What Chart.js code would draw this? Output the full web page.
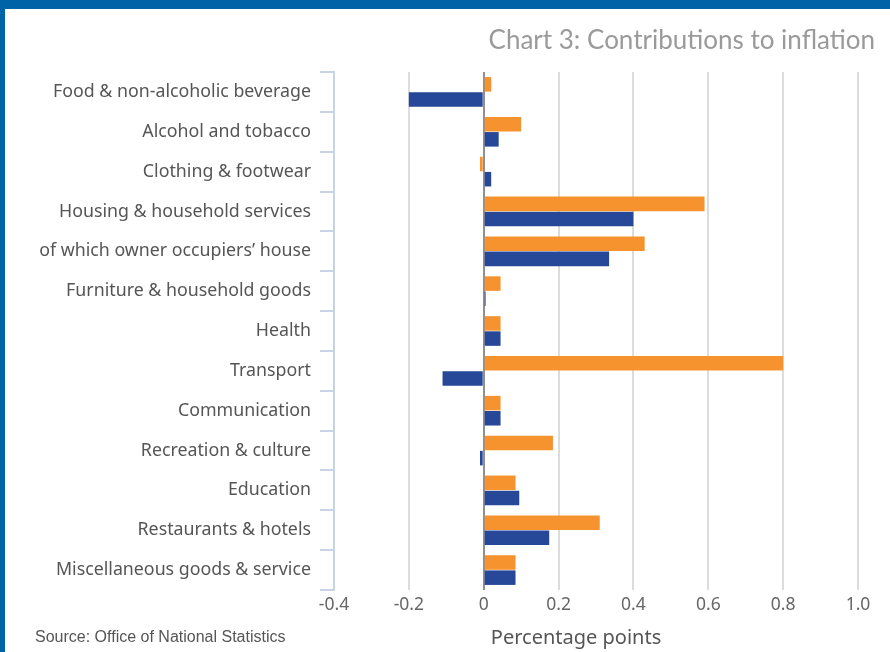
<!DOCTYPE html>
<html>
<head>
<meta charset="utf-8">
<script src="https://cdn.jsdelivr.net/npm/chart.js@4.4.0/dist/chart.umd.min.js"></script>
<style>
  html, body { margin: 0; padding: 0; background: #fff; }
  #wrap { position: relative; width: 890px; height: 652px; overflow: hidden; }
  #frameTop { position: absolute; left: 0; top: 0; width: 890px; height: 9px; background: #0062a7; }
  #frameLeft { position: absolute; left: 0; top: 0; width: 5px; height: 652px; background: #0062a7; }
</style>
</head>
<body>
<div id="wrap">
  <canvas id="inflationChart" width="890" height="652"></canvas>
  <div id="frameTop"></div>
  <div id="frameLeft"></div>
</div>
<script>
// --- Data ---
const categories = [
    "Food & non-alcoholic beverage",
    "Alcohol and tobacco",
    "Clothing & footwear",
    "Housing & household services",
    "of which owner occupiers\u2019 house",
    "Furniture & household goods",
    "Health",
    "Transport",
    "Communication",
    "Recreation & culture",
    "Education",
    "Restaurants & hotels",
    "Miscellaneous goods & service"
];
const orangeSeries = [0.02, 0.10, -0.01, 0.59, 0.43, 0.045, 0.045, 0.80, 0.045, 0.185, 0.085, 0.31, 0.085];
const blueSeries   = [-0.20, 0.04, 0.02, 0.40, 0.335, 0.005, 0.045, -0.11, 0.045, -0.01, 0.095, 0.175, 0.085];
const xTicks = [-0.4, -0.2, 0, 0.2, 0.4, 0.6, 0.8, 1.0];

const chartTitle = "Chart 3: Contributions to inflation";
const sourceNote = "Source: Office of National Statistics";
const axisTitle = "Percentage points";

// --- Layout ---
const plotLeft = 334;
const plotRight = 858;
const plotTop = 72;
const xAxisHeight = 62;

const labelFont = "'Noto Sans', sans-serif";

// Title, source note and x axis caption drawn straight onto the canvas
const captions = {
    id: "captions",
    afterDraw(chart) {
        const { ctx } = chart;
        ctx.save();
        ctx.textBaseline = "middle";

        ctx.fillStyle = "#9a9a9a";
        ctx.font = "26px Lato, sans-serif";
        ctx.textAlign = "right";
        ctx.fillText(chartTitle, 875, 41);

        ctx.fillStyle = "#555";
        ctx.font = "16px 'Liberation Sans', Arial, sans-serif";
        ctx.textAlign = "left";
        ctx.fillText(sourceNote, 35, 638);

        ctx.fillStyle = "#555";
        ctx.font = "20px " + labelFont;
        ctx.textAlign = "center";
        ctx.fillText(axisTitle, 576, 638);
        ctx.restore();
    }
};

const ctx = document.getElementById("inflationChart").getContext("2d");

new Chart(ctx, {
    type: "bar",
    data: {
        labels: categories,
        datasets: [
            {
                label: "Orange",
                data: orangeSeries,
                backgroundColor: "#f7932f",
                categoryPercentage: 0.76,
                barPercentage: 0.96
            },
            {
                label: "Blue",
                data: blueSeries,
                backgroundColor: "#274898",
                categoryPercentage: 0.76,
                barPercentage: 0.96
            }
        ]
    },
    options: {
        indexAxis: "y",
        responsive: false,
        animation: false,
        layout: { padding: { left: 0, right: 890 - plotRight, top: plotTop, bottom: 0 } },
        plugins: {
            legend: { display: false },
            tooltip: { enabled: false }
        },
        scales: {
            x: {
                type: "linear",
                min: -0.4,
                max: 1.0,
                afterBuildTicks(scale) {
                    scale.ticks = xTicks.map(v => ({ value: v }));
                },
                afterFit(scale) { scale.height = xAxisHeight; },
                border: { display: false },
                grid: {
                    drawTicks: false,
                    color: c => {
                        const v = c.tick ? c.tick.value : null;
                        if (v === 0) return "#909090";
                        if (v === -0.4) return "rgba(0,0,0,0)";
                        return "#dcdcdc";
                    },
                    lineWidth: 2
                },
                ticks: {
                    padding: 5,
                    color: "#666",
                    font: { family: labelFont, size: 17.5 },
                    callback: v => (v === 0 ? "0" : v.toFixed(1))
                }
            },
            y: {
                afterFit(scale) { scale.width = plotLeft; },
                border: { display: true, color: "#c8d4e4", width: 2 },
                grid: {
                    offset: true,
                    drawOnChartArea: false,
                    drawTicks: true,
                    tickLength: 14,
                    color: "#c8d4e4",
                    lineWidth: 2
                },
                ticks: {
                    padding: 9,
                    color: "#555",
                    font: { family: labelFont, size: 17.8 }
                }
            }
        }
    },
    plugins: [captions]
});
</script>
</body>
</html>
